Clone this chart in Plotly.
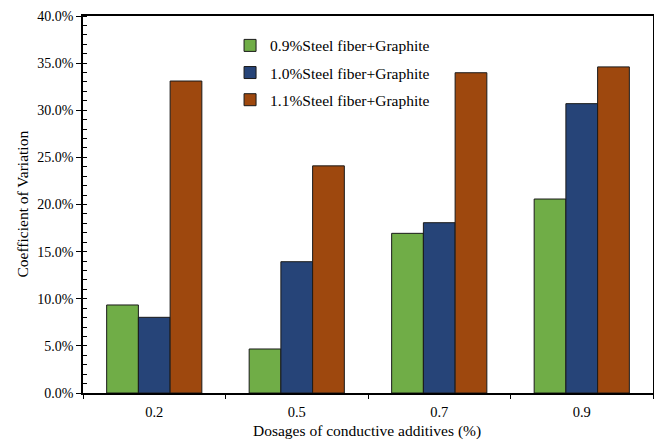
import plotly.graph_objects as go

categories = ["0.2", "0.5", "0.7", "0.9"]
series_names = ["0.9%Steel fiber+Graphite", "1.0%Steel fiber+Graphite", "1.1%Steel fiber+Graphite"]
cv_09 = [0.0934, 0.0467, 0.1694, 0.2058]
cv_10 = [0.0803, 0.1393, 0.1807, 0.3070]
cv_11 = [0.3310, 0.2410, 0.3398, 0.3460]
colors = ["#70AD47", "#264478", "#9E480E"]
x_title = "Dosages of conductive additives (%)"
y_title = "Coefficient of Variation"

FONT = "Liberation Serif, Times New Roman, serif"

# page body has an 8px margin, so the figure is 8px smaller than the window
W, H = 654, 435
ML, MR, MT, MB = 75, 9, 8, 50
PW, PH = W - ML - MR, H - MT - MB

fig = go.Figure()
for i, (name, vals, col) in enumerate(zip(series_names, [cv_09, cv_10, cv_11], colors)):
    fig.add_trace(go.Bar(
        x=categories, y=vals, name=name, legendgroup=f"g{i}",
        marker=dict(color=col, line=dict(color="#1a1a1a", width=1)),
    ))

fig.update_layout(
    width=W, height=H,
    margin=dict(l=ML, r=MR, t=MT, b=MB, autoexpand=False),
    paper_bgcolor="white", plot_bgcolor="white",
    barmode="group", bargap=0.332, bargroupgap=0,
    font=dict(family=FONT, size=15, color="black"),
    showlegend=True,
    legend=dict(
        x=0.258, y=0.966, xanchor="left", yanchor="top",
        bgcolor="rgba(0,0,0,0)", font=dict(family=FONT, size=15.5, color="black"),
        traceorder="grouped", tracegroupgap=4, itemwidth=30,
    ),
    xaxis=dict(
        type="category", tickson="boundaries", ticks="outside", ticklen=4,
        tickcolor="black", tickwidth=1.3, automargin=False,
        showline=True, linecolor="black", linewidth=1.5, mirror=True,
        showgrid=False, ticklabelstandoff=5,
        tickfont=dict(family=FONT, size=14.5),
    ),
    yaxis=dict(
        range=[0, 0.40], dtick=0.05, tickformat=".1%",
        ticks="outside", ticklen=5, tickcolor="black", tickwidth=1.3, automargin=False,
        minor=dict(ticks="inside", dtick=0.01, ticklen=4, tickcolor="black", tickwidth=1, showgrid=False),
        showline=True, linecolor="black", linewidth=1.5, mirror=True,
        showgrid=False, zeroline=False,
        tickfont=dict(family=FONT, size=14),
    ),
    annotations=[
        dict(text=x_title, xref="paper", yref="paper", x=0.5 + (367 - (8 + ML + PW / 2)) / PW,
             y=-(431 - 8 - MT - PH) / PH, xanchor="center", yanchor="middle", showarrow=False,
             font=dict(family=FONT, size=15.5)),
        dict(text=y_title, xref="paper", yref="paper", x=-(8 + ML - 22) / PW,
             y=0.5, xanchor="center", yanchor="middle", textangle=-90, showarrow=False,
             font=dict(family=FONT, size=15.5)),
    ],
)

fig.write_html("out.html")
